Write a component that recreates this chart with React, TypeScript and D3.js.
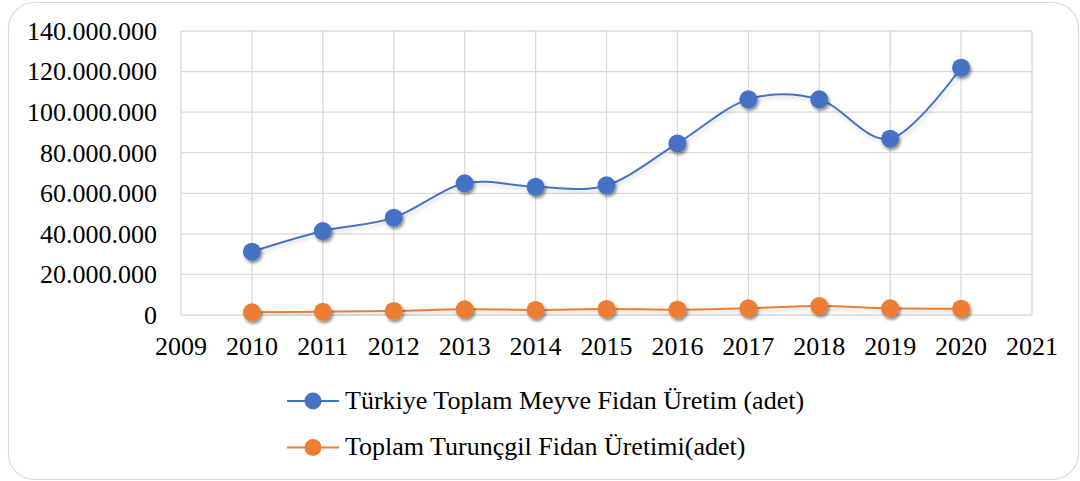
import React from "react";
import * as d3 from "d3";

const years = [2010, 2011, 2012, 2013, 2014, 2015, 2016, 2017, 2018, 2019, 2020];
const meyveFidan = [31200000, 41400000, 48000000, 64900000, 63200000, 63900000, 84600000, 106300000, 106300000, 86900000, 121900000];
const turuncgilFidan = [1300000, 1600000, 2000000, 2800000, 2500000, 3000000, 2600000, 3300000, 4400000, 3300000, 3100000];
const xTicks = [2009, 2010, 2011, 2012, 2013, 2014, 2015, 2016, 2017, 2018, 2019, 2020, 2021];
const yTicks = [0, 20000000, 40000000, 60000000, 80000000, 100000000, 120000000, 140000000];
const seriesNames = ["Türkiye Toplam Meyve Fidan Üretim (adet)", "Toplam Turunçgil Fidan Üretimi(adet)"];
const seriesColors = ["#4472C4", "#ED7D31"];

const W = 1080;
const H = 481;
const plot = { left: 181, right: 1032, top: 31, bottom: 315 };
const FONT = '"Liberation Serif", Tinos, "Times New Roman", Times, "DejaVu Serif", serif';

const fmt = (v: number) => (v === 0 ? "0" : d3.format(",")(v).replace(/,/g, "."));

export default function App() {
  const x = d3.scaleLinear().domain([2009, 2021]).range([plot.left, plot.right]);
  const y = d3.scaleLinear().domain([0, 140000000]).range([plot.bottom, plot.top]);
  const line = d3
    .line<number>()
    .x((_, i) => x(years[i]))
    .y((d) => y(d))
    .curve(d3.curveCardinal.tension(0));
  const series = [meyveFidan, turuncgilFidan];
  const textStyle = { fontFamily: FONT, fontSize: "26px" };

  return (
    <div style={{ position: "absolute", left: 0, top: 0 }}>
      <svg width={W} height={H} style={{ display: "block", background: "#fff", fontFamily: FONT }}>
        <defs>
          <filter id="shadow" x="-50%" y="-50%" width="200%" height="200%">
            <feDropShadow dx="1.5" dy="2.5" stdDeviation="1.8" floodColor="#000" floodOpacity="0.45" />
          </filter>
          <filter id="lshadow" x="-5%" y="-50%" width="110%" height="200%">
            <feDropShadow dx="1.5" dy="2.5" stdDeviation="2" floodColor="#000" floodOpacity="0.18" />
          </filter>
        </defs>
        <rect x={8.5} y={2.5} width={1070} height={477} rx={26} ry={26} fill="#fff" stroke="#d9d9d9" strokeWidth={1.2} />
        {yTicks.map((t) => (
          <line key={"gy" + t} x1={plot.left} x2={plot.right} y1={y(t)} y2={y(t)} stroke="#d9d9d9" strokeWidth={1.3} />
        ))}
        {xTicks.map((t) => (
          <line key={"gx" + t} x1={x(t)} x2={x(t)} y1={plot.top} y2={plot.bottom} stroke="#d9d9d9" strokeWidth={1.3} />
        ))}
        {yTicks.map((t) => (
          <text key={"ly" + t} x={157} y={y(t)} dy="0.34em" textAnchor="end" style={textStyle} fill="#000">
            {fmt(t)}
          </text>
        ))}
        {xTicks.map((t) => (
          <text key={"lx" + t} x={x(t)} y={355} textAnchor="middle" style={textStyle} fill="#000">
            {t}
          </text>
        ))}
        {series.map((s, si) => (
          <g key={"s" + si}>
            <path d={line(s) || ""} fill="none" stroke={seriesColors[si]} strokeWidth={2} filter="url(#lshadow)" />
            {s.map((v, i) => (
              <circle key={i} cx={x(years[i])} cy={y(v)} r={9} fill={seriesColors[si]} filter="url(#shadow)" />
            ))}
          </g>
        ))}
        {seriesNames.map((n, i) => {
          const cy = 401 + i * 46.5;
          return (
            <g key={"lg" + i}>
              <line x1={287} x2={339} y1={cy} y2={cy} stroke={seriesColors[i]} strokeWidth={2} />
              <circle cx={313} cy={cy} r={8.5} fill={seriesColors[i]} />
              <text x={345} y={cy} dy="0.3em" style={textStyle} fill="#000">
                {n}
              </text>
            </g>
          );
        })}
      </svg>
    </div>
  );
}
